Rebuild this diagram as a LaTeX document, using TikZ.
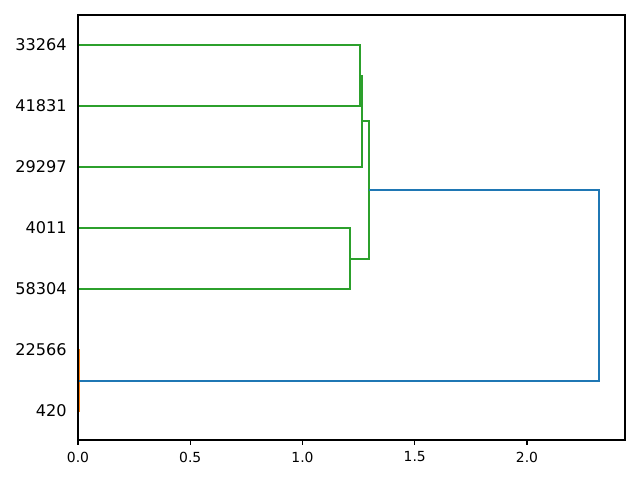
\documentclass[tikz,border=0pt]{standalone}
\usepackage{fontspec}
\setmainfont{DejaVu Sans}
\usepackage{xcolor}
\usepackage{tikz}
\usetikzlibrary{positioning, calc}

\definecolor{mplblue}{HTML}{1F77B4}
\definecolor{mplorange}{HTML}{FF7F0E}
\definecolor{mplgreen}{HTML}{2CA02C}

\begin{document}
\begin{tikzpicture}[
      x=0.72pt, y=-0.72pt,
      link/.style={line width=1.3pt},
      leaflabel/.style={anchor=east, inner sep=0pt, font=\fontsize{11.6}{14}\selectfont},
      ticklabel/.style={inner sep=0pt, font=\fontsize{10}{12}\selectfont}
    ]
      \useasboundingbox (0,0) rectangle (640,480);

      % leaves, top to bottom
      \foreach \name/\ypos in {33264/45, 41831/106, 29297/167, 4011/228, 58304/289, 22566/350, 420/411} {
        \coordinate (l\name) at (78,\ypos);
        \node[leaflabel] (t\name) at (67,\ypos) {\name};
      }

      % merge points
      \coordinate (c1) at (360,76);
      \coordinate (c2) at (362,121);
      \coordinate (c3) at (350,259);
      \coordinate (c4) at (369,190);
      \coordinate (c5) at (79,381);
      \coordinate (c6) at (599,285);

      \draw[link, mplgreen] (l33264) -| (c1) |- (l41831);
      \draw[link, mplgreen] (c1) -| (c2) |- (l29297);
      \draw[link, mplgreen] (l4011) -| (c3) |- (l58304);
      \draw[link, mplgreen] (c2) -| (c4) |- (c3);
      \draw[link, mplorange] (l22566) -| (c5) |- (l420);
      \draw[link, mplblue] (c4) -| (c6) |- (c5);

      % axes
      \draw[line width=0.8pt] (78,15) rectangle (625,440);
      \foreach \val in {0.0, 0.5, 1.0, 1.5, 2.0} {
        \pgfmathsetmacro{\xpos}{78+224.5*\val}
        \draw[line width=0.8pt] (\xpos,440) -- (\xpos,444.9);
        \node[ticklabel] (x\val) at (\xpos,457) {\val};
      }
    \end{tikzpicture}
\end{document}
